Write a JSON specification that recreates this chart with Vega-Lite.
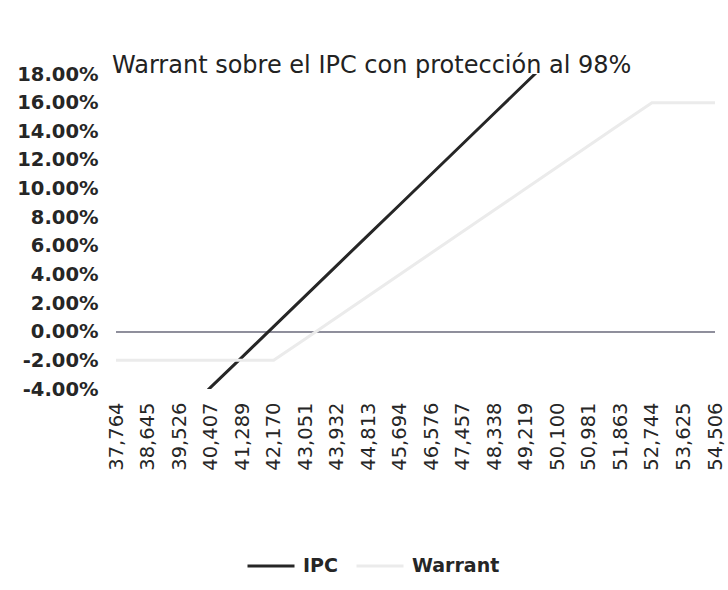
{
  "$schema": "https://vega.github.io/schema/vega-lite/v6.json",
  "width": 599,
  "height": 315,
  "autosize": {"type": "none"},
  "padding": {"left": 116, "top": 74, "right": 13, "bottom": 201},
  "background": "white",
  "title": {
    "text": "Warrant sobre el IPC con protección al 98%",
    "anchor": "start",
    "frame": "group",
    "dx": -4,
    "offset": -33,
    "baseline": "alphabetic",
    "font": "DejaVu Sans",
    "fontSize": 24,
    "fontWeight": "normal",
    "color": "#222222"
  },
  "config": {
    "view": {"stroke": null},
    "font": "DejaVu Sans",
    "axis": {"labelOverlap": false},
    "axisY": {"labelOverlap": false}
  },
  "data": {
    "values": [
      {"nivel": "37,764", "serie": "IPC", "valor": -0.1028},
      {"nivel": "38,645", "serie": "IPC", "valor": -0.0815},
      {"nivel": "39,526", "serie": "IPC", "valor": -0.0602},
      {"nivel": "40,407", "serie": "IPC", "valor": -0.0389},
      {"nivel": "41,289", "serie": "IPC", "valor": -0.0177},
      {"nivel": "42,170", "serie": "IPC", "valor": 0.0036},
      {"nivel": "43,051", "serie": "IPC", "valor": 0.0249},
      {"nivel": "43,932", "serie": "IPC", "valor": 0.0462},
      {"nivel": "44,813", "serie": "IPC", "valor": 0.0675},
      {"nivel": "45,694", "serie": "IPC", "valor": 0.0887},
      {"nivel": "46,576", "serie": "IPC", "valor": 0.1100},
      {"nivel": "47,457", "serie": "IPC", "valor": 0.1313},
      {"nivel": "48,338", "serie": "IPC", "valor": 0.1526},
      {"nivel": "49,219", "serie": "IPC", "valor": 0.1739},
      {"nivel": "50,100", "serie": "IPC", "valor": 0.1951},
      {"nivel": "50,981", "serie": "IPC", "valor": 0.2164},
      {"nivel": "51,863", "serie": "IPC", "valor": 0.2377},
      {"nivel": "52,744", "serie": "IPC", "valor": 0.2590},
      {"nivel": "53,625", "serie": "IPC", "valor": 0.2803},
      {"nivel": "54,506", "serie": "IPC", "valor": 0.3015},
      {"nivel": "37,764", "serie": "Warrant", "valor": -0.02},
      {"nivel": "38,645", "serie": "Warrant", "valor": -0.02},
      {"nivel": "39,526", "serie": "Warrant", "valor": -0.02},
      {"nivel": "40,407", "serie": "Warrant", "valor": -0.02},
      {"nivel": "41,289", "serie": "Warrant", "valor": -0.02},
      {"nivel": "42,170", "serie": "Warrant", "valor": -0.02},
      {"nivel": "43,051", "serie": "Warrant", "valor": -0.005},
      {"nivel": "43,932", "serie": "Warrant", "valor": 0.010},
      {"nivel": "44,813", "serie": "Warrant", "valor": 0.025},
      {"nivel": "45,694", "serie": "Warrant", "valor": 0.040},
      {"nivel": "46,576", "serie": "Warrant", "valor": 0.055},
      {"nivel": "47,457", "serie": "Warrant", "valor": 0.070},
      {"nivel": "48,338", "serie": "Warrant", "valor": 0.085},
      {"nivel": "49,219", "serie": "Warrant", "valor": 0.100},
      {"nivel": "50,100", "serie": "Warrant", "valor": 0.115},
      {"nivel": "50,981", "serie": "Warrant", "valor": 0.130},
      {"nivel": "51,863", "serie": "Warrant", "valor": 0.145},
      {"nivel": "52,744", "serie": "Warrant", "valor": 0.160},
      {"nivel": "53,625", "serie": "Warrant", "valor": 0.160},
      {"nivel": "54,506", "serie": "Warrant", "valor": 0.160}
    ]
  },
  "layer": [
    {
      "mark": {"type": "rule", "color": "#8e8e9c", "strokeWidth": 1.2},
      "encoding": {
        "y": {
          "datum": 0,
          "type": "quantitative",
          "scale": {"domain": [-0.04, 0.18], "nice": false, "zero": false},
          "axis": {
            "title": null,
            "values": [-0.04, -0.02, 0, 0.02, 0.04, 0.06, 0.08, 0.10, 0.12, 0.14, 0.16, 0.18],
            "format": ".2%",
            "labelExpr": "replace(datum.label, '−', '-')",
            "labelFont": "DejaVu Sans",
            "labelFontSize": 19.5,
            "labelFontWeight": "bold",
            "labelColor": "#262626",
            "labelPadding": 18,
            "labelOverlap": false,
            "labelBound": false,
            "labelSeparation": 0,
            "ticks": false,
            "domain": false,
            "grid": false
          }
        }
      }
    },
    {
      "mark": {"type": "line", "clip": true, "strokeWidth": 3},
      "encoding": {
        "x": {
          "field": "nivel",
          "type": "ordinal",
          "sort": null,
          "scale": {"type": "point", "padding": 0},
          "axis": {
            "title": null,
            "labelAngle": -90,
            "labelFont": "DejaVu Sans",
            "labelFontSize": 19.5,
            "labelColor": "#262626",
            "labelPadding": 13,
            "labelOverlap": false,
            "ticks": false,
            "domain": false,
            "grid": false
          }
        },
        "y": {
          "field": "valor",
          "type": "quantitative",
          "scale": {"domain": [-0.04, 0.18], "nice": false, "zero": false},
          "axis": {
            "title": null,
            "values": [-0.04, -0.02, 0, 0.02, 0.04, 0.06, 0.08, 0.10, 0.12, 0.14, 0.16, 0.18],
            "format": ".2%",
            "labelExpr": "replace(datum.label, '−', '-')",
            "labelFont": "DejaVu Sans",
            "labelFontSize": 19.5,
            "labelFontWeight": "bold",
            "labelColor": "#262626",
            "labelPadding": 18,
            "labelOverlap": false,
            "labelBound": false,
            "labelSeparation": 0,
            "ticks": false,
            "domain": false,
            "grid": false
          }
        },
        "color": {
          "field": "serie",
          "type": "nominal",
          "scale": {"domain": ["IPC", "Warrant"], "range": ["#262626", "#ebebeb"]},
          "legend": {
            "title": null,
            "orient": "none",
            "legendX": 130,
            "legendY": 467,
            "direction": "horizontal",
            "symbolType": "stroke",
            "symbolSize": 2209,
            "symbolStrokeWidth": 3,
            "labelFont": "DejaVu Sans",
            "labelFontSize": 19,
            "labelFontWeight": "bold",
            "labelColor": "#262626",
            "labelOffset": 7,
            "columnPadding": 12
          }
        }
      }
    }
  ]
}
